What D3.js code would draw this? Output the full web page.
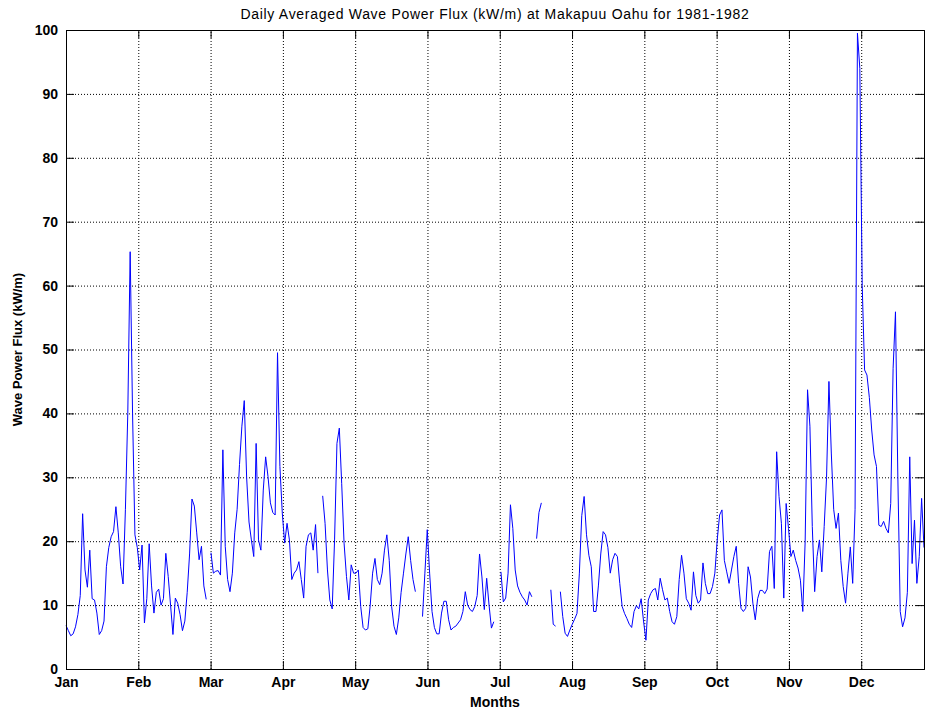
<!DOCTYPE html>
<html>
<head>
<meta charset="UTF-8">
<title>Daily Averaged Wave Power Flux</title>
<style>
    body { margin: 0; background: #fff; }
    svg { display: block; font-family: "Liberation Sans", Arial, sans-serif; }
    .tick text { font-weight: bold; font-size: 14px; fill: #000; }
    .grid line { stroke: #000; stroke-dasharray: 1,2; stroke-width: 1; }
    .grid path { display: none; }
</style>
<script src="https://d3js.org/d3.v7.min.js"></script>
</head>
<body>
<script>
    const width = 925;
    const height = 710;

    // month tick labels, evenly spaced (365/12 days apart)
    const monthLabels = ["Jan", "Feb", "Mar", "Apr", "May", "Jun",
                         "Jul", "Aug", "Sep", "Oct", "Nov", "Dec"];
    const yTicks = [0, 10, 20, 30, 40, 50, 60, 70, 80, 90, 100];

    // daily averaged wave power flux (kW/m), null = missing day
    const flux = [
        6.8, 6, 5.2, 5.5, 6.6, 8.5, 11.5, 24.3, 15.5, 12.8,
        18.6, 11, 10.8, 8.75, 5.4, 6, 7.5, 16, 19, 20.7,
        21.5, 25.4, 21.3, 16, 13.3, 25, 40, 65.3, 40, 21,
        19, 15.5, 19.4, 7.2, 11, 19.6, 13, 8.75, 12, 12.5,
        10, 11, 18.1, 14.5, 10, 5.4, 11.1, 10.3, 8.5, 6,
        7.5, 12, 18, 26.6, 25.5, 21.3, 17.1, 19.2, 13, 10.9,
        null, 18.2, 15, 15.3, 15.4, 14.7, 34.3, 19.2, 14, 12.1,
        15, 21.3, 25, 32, 38, 42, 30, 23, 20.2, 17.6,
        35.3, 20.2, 18.6, 28, 33.2, 30.1, 26, 24.5, 24.1, 49.5,
        31.7, 24.4, 19.7, 22.8, 20.2, 14, 15, 15.5, 16.8, 14,
        11.1, 19.2, 21, 21.3, 18.6, 22.6, 15, null, 27.1, 22.8,
        15.5, 10.8, 9.4, 20.2, 35.3, 37.7, 29, 19.7, 14.5, 10.8,
        16.3, 15, 15, 15.5, 9.8, 6.5, 6.1, 6.3, 10, 15,
        17.3, 14, 13.2, 15, 18.6, 21, 17, 9.8, 6.7, 5.4,
        8, 12, 15, 18, 20.7, 17, 14, 12.1, null, null,
        8.2, 15, 21.8, 15, 9, 6.5, 5.5, 5.5, 8.75, 10.6,
        10.6, 7.7, 6.1, 6.5, 6.7, 7.2, 7.7, 9, 12.1, 10,
        9.3, 9, 9.8, 11.5, 18, 14.4, 9.3, 14.2, 10, 6.4,
        7.4, null, null, 15.2, 10.5, 11.1, 15, 25.7, 22, 15.5,
        13, 12, 11.3, 10.8, 10, 12.1, 11.3, null, 20.4, 24.5,
        26, null, null, null, 12.4, 7, 6.7, null, 12.1, 8.2,
        5.6, 5.1, 6.1, 7, 7.8, 8.7, 15, 24, 27, 21,
        17.8, 16, 9, 9, 13, 18, 21.5, 21, 19, 15,
        17.1, 18.1, 17.6, 13.4, 9.8, 8.7, 7.9, 7, 6.5, 9,
        9.9, 9.4, 11, 7.5, 4.5, 10.8, 11.8, 12.4, 12.6, 10.8,
        14.2, 12.4, 10.8, 11.1, 9, 7.4, 7, 8.2, 14, 17.8,
        15, 11, 10.3, 9.2, 15.2, 11.5, 10.3, 10.8, 16.6, 13.4,
        11.8, 11.8, 12.9, 15, 20.2, 24.1, 24.9, 17, 15.2, 13.4,
        15.5, 17.6, 19.2, 13.4, 9.5, 9, 9.5, 16, 14.4, 10.3,
        7.7, 11, 12.3, 12.3, 11.8, 12.5, 18.4, 19.2, 12.6, 34,
        27, 22.8, 11.1, 25.9, 22, 17.6, 18.6, 17, 15.8, 13.9,
        9, 20, 43.7, 38, 22.3, 12.1, 17.6, 20.2, 15.2, 22.3,
        30, 45, 33.8, 25, 22, 24.4, 17, 12.9, 10.3, 15,
        19.1, 13.4, 25, 99.5, 94, 60, 46.8, 46, 42.5, 37.4,
        33.5, 31.7, 22.5, 22.3, 23.1, 22, 21.3, 25.9, 47, 55.9,
        30, 9, 6.6, 8, 12, 33.2, 16.5, 23.3, 13.4, 17.6,
        26.7, 19
    ];

    const margin = { top: 30, right: 1, bottom: 41, left: 66 };
    const innerW = width - margin.left - margin.right;
    const innerH = height - margin.top - margin.bottom;

    const x = d3.scaleLinear().domain([0, flux.length - 1]).range([0, innerW]);
    const y = d3.scaleLinear().domain([0, 100]).range([innerH, 0]);
    const monthPos = monthLabels.map((m, i) => i * 365 / 12);

    const svg = d3.select("body").append("svg")
        .attr("width", width)
        .attr("height", height);

    svg.append("text")
        .attr("x", margin.left + innerW / 2)
        .attr("y", 19)
        .attr("text-anchor", "middle")
        .style("font-size", "14px")
        .style("letter-spacing", "0.7px")
        .text("Daily Averaged Wave Power Flux (kW/m) at Makapuu Oahu for 1981-1982");

    const g = svg.append("g")
        .attr("transform", `translate(${margin.left},${margin.top})`);

    // dotted grid
    g.append("g").attr("class", "grid")
        .attr("transform", `translate(0,${innerH})`)
        .call(d3.axisBottom(x).tickValues(monthPos.slice(1)).tickSize(-innerH).tickFormat(""));
    g.append("g").attr("class", "grid")
        .call(d3.axisLeft(y).tickValues(yTicks.slice(1, -1)).tickSize(-innerW).tickFormat(""));

    // the data line
    const line = d3.line()
        .defined(d => d != null)
        .x((d, i) => x(i))
        .y(d => y(d));

    g.append("path")
        .datum(flux)
        .attr("fill", "none")
        .attr("stroke", "#0000ff")
        .attr("stroke-width", 1)
        .attr("d", line);

    // axes with inward ticks, MATLAB-style box
    const xAxis = g.append("g")
        .attr("transform", `translate(0,${innerH})`)
        .call(d3.axisBottom(x).tickValues(monthPos).tickSize(-8).tickPadding(5)
            .tickFormat((d, i) => monthLabels[i]));
    const yAxis = g.append("g")
        .call(d3.axisLeft(y).tickValues(yTicks).tickSize(-8).tickPadding(8));
    g.append("g")
        .call(d3.axisTop(x).tickValues(monthPos).tickSize(-8).tickFormat(""));
    g.append("g")
        .attr("transform", `translate(${innerW},0)`)
        .call(d3.axisRight(y).tickValues(yTicks).tickSize(-8).tickFormat(""));

    g.selectAll(".domain").attr("stroke", "#000");
    g.selectAll(".tick line").attr("stroke", "#000");
    xAxis.selectAll(".tick text").attr("dy", "0.95em");

    svg.append("text")
        .attr("x", margin.left + innerW / 2)
        .attr("y", 707)
        .attr("text-anchor", "middle")
        .style("font-size", "14px")
        .style("font-weight", "bold")
        .text("Months");

    svg.append("text")
        .attr("transform", `translate(22,${margin.top + innerH / 2}) rotate(-90)`)
        .attr("text-anchor", "middle")
        .style("font-size", "13px")
        .style("font-weight", "bold")
        .text("Wave Power Flux (kW/m)");
</script>
</body>
</html>
